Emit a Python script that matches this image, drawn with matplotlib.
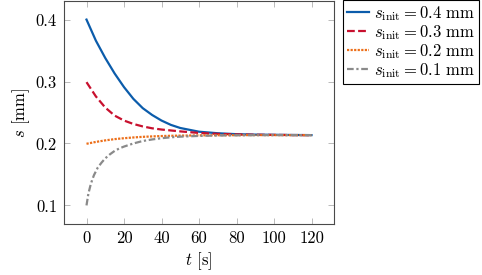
import matplotlib
matplotlib.use("Agg")
import matplotlib.pyplot as plt

plt.rcParams['font.family'] = 'serif'
plt.rcParams['font.serif'] = ['cmr10']
plt.rcParams['mathtext.fontset'] = 'cm'
plt.rcParams['axes.formatter.use_mathtext'] = True
plt.rcParams['font.size'] = 12

# values
t = [0, 5, 10, 15, 20, 25, 30, 35, 40, 45, 50, 60, 70, 80, 90, 100, 110, 120]
s_04 = [0.400, 0.366, 0.338, 0.313, 0.291, 0.272, 0.257, 0.246, 0.237, 0.230, 0.225,
        0.219, 0.2165, 0.215, 0.2143, 0.2140, 0.2137, 0.2135]
s_03 = [0.299, 0.276, 0.258, 0.245, 0.237, 0.2315, 0.2275, 0.2245, 0.2225, 0.221, 0.2195,
        0.2170, 0.2155, 0.2146, 0.2141, 0.2138, 0.2136, 0.2135]
s_02 = [0.1995, 0.2025, 0.2050, 0.2070, 0.2085, 0.2097, 0.2107, 0.2114, 0.2120, 0.2124, 0.2127,
        0.2131, 0.2133, 0.2134, 0.2135, 0.2135, 0.2135, 0.2135]
t_01 = [0, 1, 2, 3, 4, 6, 8, 10, 12.5, 15, 17.5, 20, 25, 30, 35, 40, 45, 50, 60, 70, 80, 90, 100, 110, 120]
s_01 = [0.100, 0.119, 0.131, 0.141, 0.149, 0.161, 0.169, 0.176, 0.1825, 0.188, 0.192, 0.195,
        0.200, 0.204, 0.2065, 0.2085, 0.2100, 0.2110, 0.2122, 0.2129, 0.2132, 0.2134, 0.2135,
        0.2135, 0.2135]

labels = [r'$s_{\mathrm{init}} = 0.4$ mm', r'$s_{\mathrm{init}} = 0.3$ mm',
          r'$s_{\mathrm{init}} = 0.2$ mm', r'$s_{\mathrm{init}} = 0.1$ mm']

fig = plt.figure(figsize=(4.82, 2.75), dpi=100)
ax = fig.add_axes([64/482, 51/275, 270/482, 223/275])

ax.plot(t, s_04, color='#0b5cab', lw=1.6, ls='-', label=labels[0])
ax.plot(t, s_03, color='#c8102e', lw=1.6, ls=(0, (3.5, 1.5)), label=labels[1])
ax.plot(t, s_02, color='#ec6f1a', lw=1.6, ls=(0, (1, 0.6)), label=labels[2])
ax.plot(t_01, s_01, color='#8a8a8a', lw=1.6, ls=(0, (3, 1.2, 1, 1.2)), label=labels[3])

ax.set_xlim(-12, 132)
ax.set_ylim(0.07, 0.43)
ax.set_xticks([0, 20, 40, 60, 80, 100, 120])
ax.set_yticks([0.1, 0.2, 0.3, 0.4])
ax.set_xticklabels(['0', '20', '40', '60', '80', '100', '120'])
ax.set_yticklabels(['0.1', '0.2', '0.3', '0.4'])
ax.tick_params(direction='in', length=4, width=0.6, color='#b0b0b0',
               top=True, right=True, pad=5)
for sp in ax.spines.values():
    sp.set_color('#4a4a4a')
    sp.set_linewidth(0.8)

ax.set_xlabel(r'$t$ [s]', labelpad=3)
ax.set_ylabel(r'$s$ [mm]', labelpad=3)

leg = fig.legend(loc='upper left', bbox_to_anchor=(343/482, 1.0), fancybox=False,
                 edgecolor='black', framealpha=1, handlelength=1.3, handletextpad=0.3,
                 borderpad=0.25, labelspacing=0.0, borderaxespad=0)
leg.get_frame().set_linewidth(0.8)

fig.savefig('out.png', dpi=100)
